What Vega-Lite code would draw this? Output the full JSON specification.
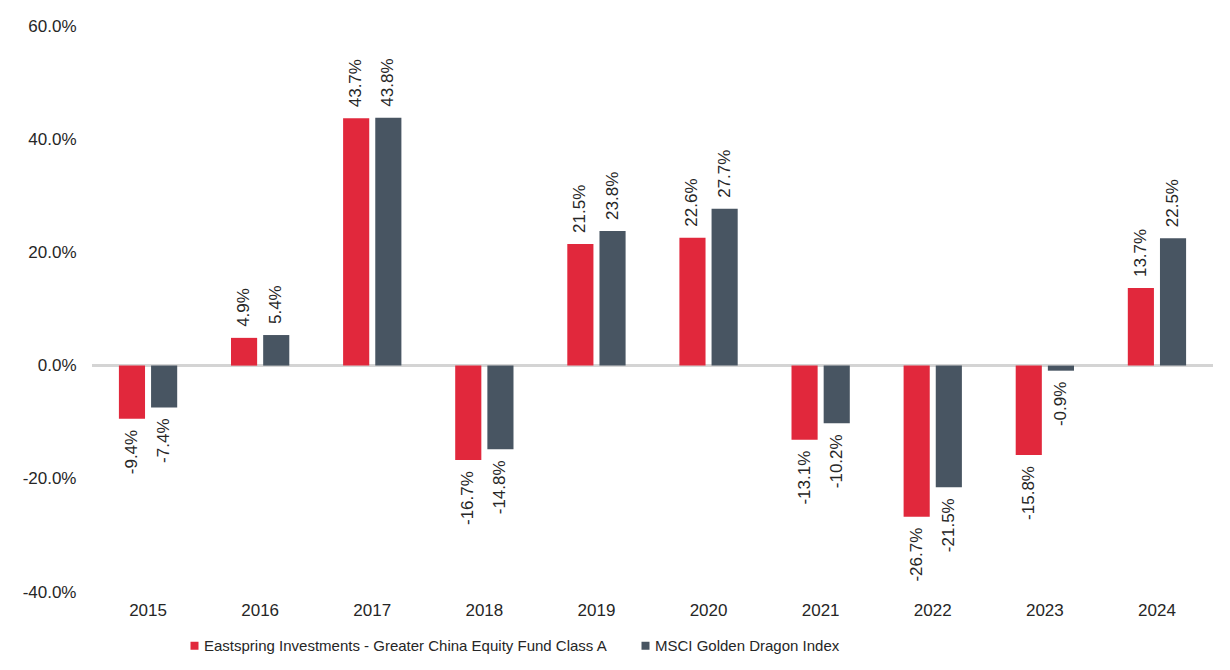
{
  "$schema": "https://vega.github.io/schema/vega-lite/v6.json",
  "width": 1121,
  "height": 566,
  "autosize": {"type": "none"},
  "padding": {"left": 92, "top": 26, "right": 17, "bottom": 78},
  "background": "white",
  "config": {
    "view": {"stroke": null},
    "font": "Liberation Sans",
    "locale": {"number": {"decimal": ".", "thousands": ",", "grouping": [3], "currency": ["$", ""], "minus": "-"}}
  },
  "data": {
    "values": [
      {"year": "2015", "series": "Eastspring Investments - Greater China Equity Fund Class A", "value": -0.094},
      {"year": "2015", "series": "MSCI Golden Dragon Index", "value": -0.074},
      {"year": "2016", "series": "Eastspring Investments - Greater China Equity Fund Class A", "value": 0.049},
      {"year": "2016", "series": "MSCI Golden Dragon Index", "value": 0.054},
      {"year": "2017", "series": "Eastspring Investments - Greater China Equity Fund Class A", "value": 0.437},
      {"year": "2017", "series": "MSCI Golden Dragon Index", "value": 0.438},
      {"year": "2018", "series": "Eastspring Investments - Greater China Equity Fund Class A", "value": -0.167},
      {"year": "2018", "series": "MSCI Golden Dragon Index", "value": -0.148},
      {"year": "2019", "series": "Eastspring Investments - Greater China Equity Fund Class A", "value": 0.215},
      {"year": "2019", "series": "MSCI Golden Dragon Index", "value": 0.238},
      {"year": "2020", "series": "Eastspring Investments - Greater China Equity Fund Class A", "value": 0.226},
      {"year": "2020", "series": "MSCI Golden Dragon Index", "value": 0.277},
      {"year": "2021", "series": "Eastspring Investments - Greater China Equity Fund Class A", "value": -0.131},
      {"year": "2021", "series": "MSCI Golden Dragon Index", "value": -0.102},
      {"year": "2022", "series": "Eastspring Investments - Greater China Equity Fund Class A", "value": -0.267},
      {"year": "2022", "series": "MSCI Golden Dragon Index", "value": -0.215},
      {"year": "2023", "series": "Eastspring Investments - Greater China Equity Fund Class A", "value": -0.158},
      {"year": "2023", "series": "MSCI Golden Dragon Index", "value": -0.009},
      {"year": "2024", "series": "Eastspring Investments - Greater China Equity Fund Class A", "value": 0.137},
      {"year": "2024", "series": "MSCI Golden Dragon Index", "value": 0.225}
    ]
  },
  "layer": [
    {
      "mark": {"type": "rule", "color": "#d4d4d4", "strokeWidth": 1.5},
      "encoding": {"y": {"datum": 0, "type": "quantitative", "scale": {"domain": [-0.4, 0.6]}}}
    },
    {
      "mark": {"type": "bar"},
      "encoding": {
        "x": {
          "field": "year", "type": "nominal",
          "scale": {"paddingInner": 0.48, "paddingOuter": 0.24},
          "axis": {"title": null, "labelAngle": 0, "domain": false, "ticks": false, "labelPadding": 10, "labelFontSize": 17, "labelColor": "#262626"}
        },
        "xOffset": {"field": "series", "scale": {"paddingInner": 0.1875}},
        "y": {
          "field": "value", "type": "quantitative",
          "scale": {"domain": [-0.4, 0.6], "nice": false},
          "axis": {"title": null, "values": [-0.4, -0.2, 0, 0.2, 0.4, 0.6], "format": ".1%", "grid": false, "domain": false, "ticks": false, "labelPadding": 16, "labelFontSize": 17, "labelColor": "#262626"}
        },
        "color": {
          "field": "series", "type": "nominal",
          "scale": {"domain": ["Eastspring Investments - Greater China Equity Fund Class A", "MSCI Golden Dragon Index"], "range": ["#e1283c", "#485562"]},
          "legend": {
            "title": null, "orient": "none", "legendX": 95, "legendY": 612, "direction": "horizontal", "columns": 2,
            "symbolType": "square", "symbolSize": 64, "symbolStrokeWidth": 0,
            "labelFont": "Liberation Sans", "labelFontSize": 15, "labelColor": "#262626", "labelOffset": 2, "columnPadding": 30, "labelLimit": 600
          }
        }
      }
    },
    {
      "transform": [{"filter": "datum.value >= 0"}],
      "mark": {"type": "text", "angle": 270, "align": "left", "baseline": "middle", "dx": 11, "fontSize": 17, "color": "#262626"},
      "encoding": {
        "x": {"field": "year", "type": "nominal"},
        "xOffset": {"field": "series"},
        "y": {"field": "value", "type": "quantitative"},
        "text": {"field": "value", "type": "quantitative", "format": ".1%"}
      }
    },
    {
      "transform": [{"filter": "datum.value < 0"}],
      "mark": {"type": "text", "angle": 270, "align": "right", "baseline": "middle", "dx": -11, "fontSize": 17, "color": "#262626"},
      "encoding": {
        "x": {"field": "year", "type": "nominal"},
        "xOffset": {"field": "series"},
        "y": {"field": "value", "type": "quantitative"},
        "text": {"field": "value", "type": "quantitative", "format": ".1%"}
      }
    }
  ]
}
